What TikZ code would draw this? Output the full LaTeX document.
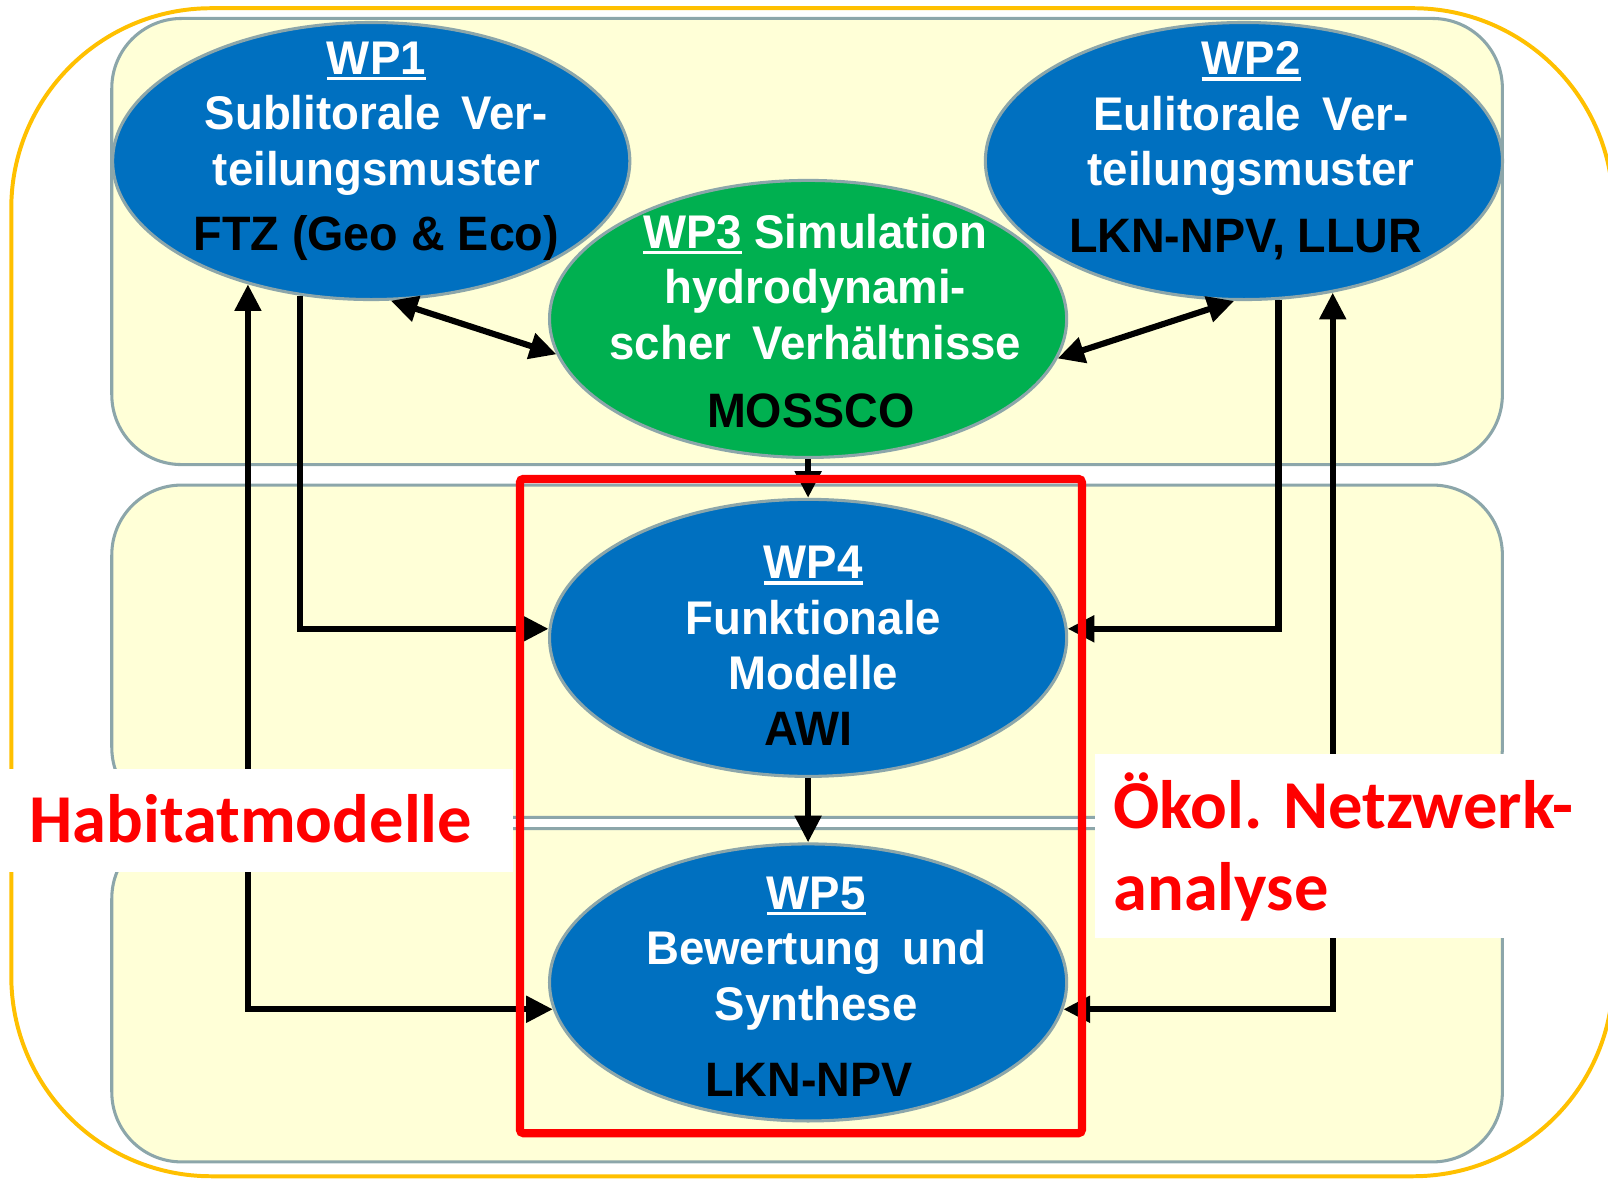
\documentclass[tikz,border=0pt]{standalone}
\usepackage{fontspec}
\setmainfont{Liberation Sans}[FakeStretch=0.965]
\newfontfamily\calibri{Carlito}
\usepackage{tikz}
\usetikzlibrary{arrows.meta,shapes.geometric}

\definecolor{wpblau}{RGB}{0,112,192}
\definecolor{wpgruen}{RGB}{0,176,80}
\definecolor{rand}{RGB}{140,166,170}
\definecolor{hellgelb}{RGB}{255,255,215}
\definecolor{rahmen}{RGB}{255,192,0}
\newcommand{\unter}[1]{\setbox0\hbox{#1}\rlap{\rule[-1.6pt]{\wd0}{0.9pt}}#1}
\newcommand{\lue}{\hspace{0.45em}}
\newcommand{\schwarz}{\color{black}\fontsize{13.4}{15.4}\selectfont}

\begin{document}
\begin{tikzpicture}[x=0.01cm,y=-0.01cm]
	\tikzstyle{kasten}=[draw=rand, line width=0.85pt, fill=hellgelb, rounded corners=0.68cm]
	\tikzstyle{paket}=[ellipse, draw=rand, line width=0.85pt, fill=wpblau, minimum width=5.04cm, minimum height=2.70cm, inner sep=0pt]
	\tikzstyle{inhalt}=[anchor=north, inner sep=0pt, align=center, text=white, font=\bfseries\fontsize{13.1}{15.4}\selectfont]
	\tikzstyle{pfeil}=[line width=1.7pt, >={Triangle[length=0.26cm,width=0.25cm]}]
	\tikzstyle{rot}=[inner sep=0pt, text=red, font=\calibri\bfseries\fontsize{19}{22.8}\selectfont]

	\useasboundingbox (0,0) rectangle (1568,1163);
	\draw[rahmen, line width=1.1pt, rounded corners=1.95cm] (11,8) rectangle (1573,1147);
	\draw[kasten] (109,18) rectangle (1465,453);
	\draw[kasten] (109,473) rectangle (1465,797);
	\draw[kasten] (109,808) rectangle (1465,1133);

	\node[paket] (WP1) at (362,157) {};
	\node[paket] (WP2) at (1213,157) {};
	\node[paket, fill=wpgruen] (WP3) at (788,311) {};
	\node[paket] (WP4) at (788,622) {};
	\node[paket] (WP5) at (788,958) {};

	\node[inhalt] (T1) at (367,40) {\unter{WP1}\\Sublitorale\lue Ver-\\teilungsmuster\\[2.6pt]\schwarz FTZ (Geo \& Eco)};
	\node[inhalt] (T2) at (1220,40) {\unter{WP2}\\Eulitorale\lue Ver-\\teilungsmuster\\[3.1pt]\schwarz LKN-NPV, LLUR\hspace*{3pt}};
	\node[inhalt] (T3) at (795,208) {\unter{WP3} Simulation\\hydrodynami-\\scher\lue Verh\"altnisse\\[3.4pt]\schwarz MOSSCO\hspace*{2.5pt}};
	\node[inhalt] (T4) at (793,532) {\unter{WP4}\\Funktionale\\Modelle\\\schwarz AWI\hspace*{2.5pt}};
	\node[inhalt] (T5) at (796,854) {\unter{WP5}\\Bewertung\lue und\\Synthese\\[5.7pt]\schwarz LKN-NPV\hspace*{4pt}};

	\draw[pfeil,<->] (WP1.-82) -- (WP3.188);
	\draw[pfeil,<->] (WP3.-9) -- (WP2.-94);
	\draw[pfeil,->] (WP3.south) -- (WP4.north);
	\draw[pfeil,->] (WP1.-118) |- (WP4.178);
	\draw[pfeil,->] (WP2.-76) |- (WP4.2);
	\draw[pfeil,<->] (WP1.-135) |- (WP5.186);
	\draw[pfeil,<->] (WP2.-56) |- (WP5.-6);
	\draw[pfeil,->] (WP4.south) -- (WP5.north);
%	\draw[pfeil,->] (WP4) -- (WP5);

	\draw[red, line width=2.3pt, rounded corners=1pt] (507,467) rectangle (1055,1105);

	\fill[white] (0,750) rectangle (500,850);
	\fill[white] (1068,735) rectangle (1568,915);
	\node[rot, anchor=base west] (habitat) at (28,822) {Habitatmodelle};
	\node[rot, anchor=base west, align=left] (netzwerk) at (1085,888) {\"Okol. Netzwerk-\\analyse};

\end{tikzpicture}
\end{document}
